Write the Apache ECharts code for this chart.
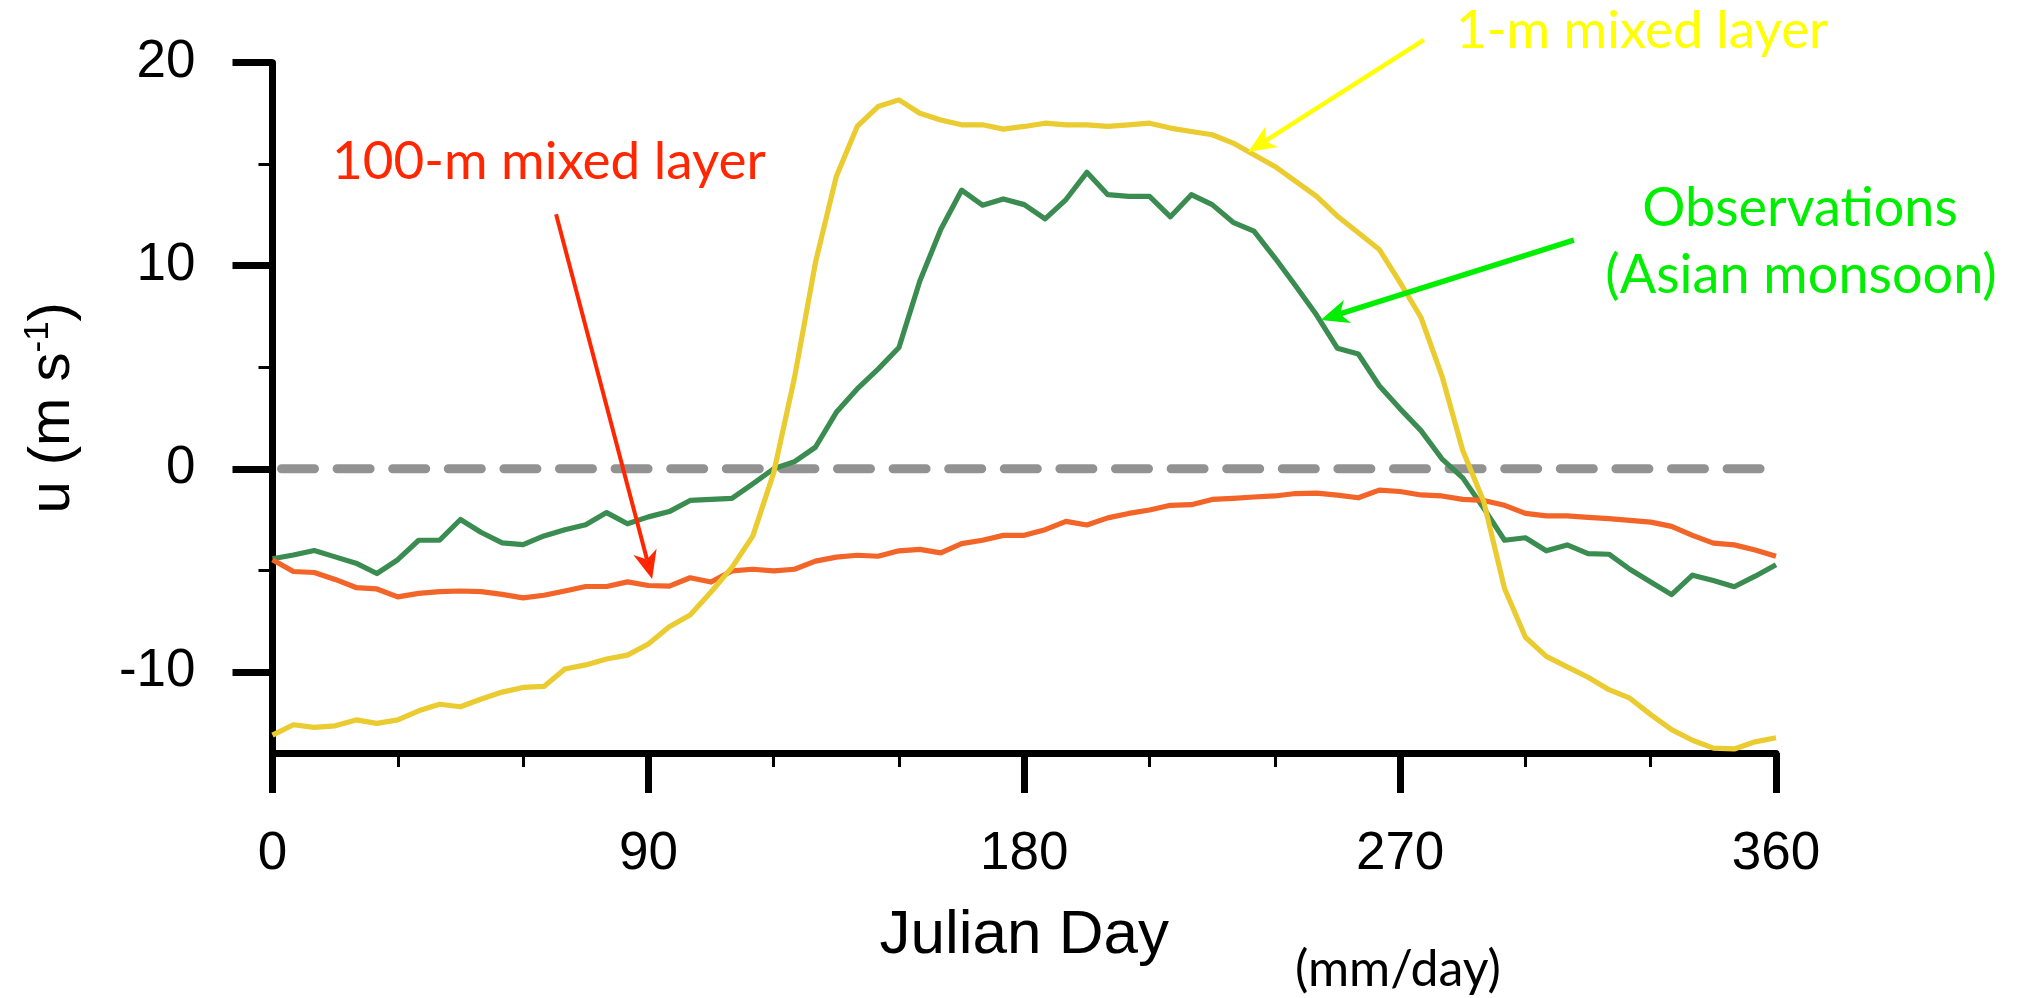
<!DOCTYPE html>
<html>
<head>
<meta charset="utf-8">
<script src="https://cdn.jsdelivr.net/npm/echarts@6/dist/echarts.min.js"></script>
<style>
html,body{margin:0;padding:0;background:#fff;}
#c{width:2021px;height:998px;}
</style>
</head>
<body>
<div id="c"></div>
<script>
// ---- data (Julian day, every 5 days) ----
const days = [0,5,10,15,20,25,30,35,40,45,50,55,60,65,70,75,80,85,90,95,100,105,110,115,120,125,130,135,140,145,150,155,160,165,170,175,180,185,190,195,200,205,210,215,220,225,230,235,240,245,250,255,260,265,270,275,280,285,290,295,300,305,310,315,320,325,330,335,340,345,350,355,360];

const observations = [-4.43,-4.25,-4.03,-4.34,-4.65,-5.16,-4.48,-3.52,-3.52,-2.5,-3.14,-3.65,-3.74,-3.31,-3.0,-2.76,-2.16,-2.71,-2.37,-2.11,-1.56,-1.51,-1.46,-0.74,0.0,0.35,1.06,2.78,3.93,4.91,5.97,9.25,11.78,13.72,12.98,13.29,13.01,12.31,13.26,14.6,13.5,13.42,13.42,12.41,13.5,13.01,12.14,11.7,10.39,9.0,7.57,5.93,5.65,4.09,2.95,1.88,0.49,-0.45,-1.94,-3.52,-3.4,-4.04,-3.75,-4.18,-4.21,-4.95,-5.58,-6.2,-5.24,-5.5,-5.81,-5.29,-4.73];

const mixed100m = [-4.48,-5.06,-5.11,-5.45,-5.85,-5.92,-6.31,-6.14,-6.05,-6.02,-6.05,-6.19,-6.36,-6.23,-6.02,-5.8,-5.8,-5.57,-5.75,-5.78,-5.37,-5.58,-5.03,-4.95,-5.03,-4.95,-4.55,-4.35,-4.26,-4.31,-4.04,-3.97,-4.14,-3.69,-3.52,-3.28,-3.28,-3.0,-2.59,-2.77,-2.42,-2.2,-2.03,-1.8,-1.77,-1.51,-1.46,-1.39,-1.34,-1.22,-1.2,-1.3,-1.43,-1.05,-1.12,-1.29,-1.34,-1.51,-1.56,-1.8,-2.2,-2.32,-2.32,-2.39,-2.46,-2.54,-2.63,-2.84,-3.28,-3.66,-3.75,-4.0,-4.31];

const mixed1m = [-13.12,-12.61,-12.74,-12.66,-12.37,-12.54,-12.37,-11.92,-11.6,-11.72,-11.34,-11.0,-10.77,-10.72,-9.86,-9.66,-9.37,-9.18,-8.63,-7.78,-7.2,-6.07,-4.86,-3.32,-0.2,4.5,10.15,14.4,16.86,17.84,18.17,17.51,17.18,16.94,16.94,16.73,16.86,17.02,16.94,16.94,16.86,16.94,17.02,16.78,16.61,16.45,16.04,15.47,14.89,14.16,13.42,12.44,11.62,10.8,9.17,7.45,4.58,0.9,-1.6,-5.9,-8.3,-9.24,-9.76,-10.27,-10.88,-11.3,-12.11,-12.85,-13.37,-13.76,-13.8,-13.45,-13.25];

// zero reference line (dashed)
const zeroLineX = [0, 358];
const zeroLineY = [0, 0];

const xMajorTicks = [0, 90, 180, 270, 360];
const yMajorTicks = [-10, 0, 10, 20];
const yMinorTicks = [-5, 5, 15];

// annotation arrow anchors in data space [day, u]
const arrowRedFrom = [67.9, 12.54],   arrowRedTo = [90.9, -5.43];
const arrowYellowFrom = [275.7, 21.12], arrowYellowTo = [233.6, 15.6];
const arrowGreenFrom = [311.6, 11.26], arrowGreenTo = [251.0, 7.33];

const AX_FONT = '"Liberation Sans", Helvetica, Arial, sans-serif';
const ANN_FONT = 'Lato, "Open Sans", sans-serif';

function pairs(xs, ys){ return xs.map((x,i)=>[x, ys[i]]); }

const chart = echarts.init(document.getElementById('c'), null, {renderer:'canvas', width:2021, height:998});

const option = {
  animation: false,
  backgroundColor: '#ffffff',
  grid: {left: 272.5, top: 62.7, right: 245, bottom: 245},
  xAxis: {
    type: 'value', min: 0, max: 360, interval: 90,
    name: 'Julian Day', nameLocation: 'middle', nameGap: 152,
    nameTextStyle: {fontFamily: AX_FONT, fontSize: 62, color: '#000'},
    axisLine: {show: true, onZero: false, lineStyle: {color: '#000', width: 7}},
    axisTick: {show: true, inside: false, length: 40, customValues: xMajorTicks, lineStyle: {color: '#000', width: 7}},
    minorTick: {show: true, splitNumber: 3, length: 14, lineStyle: {color: '#000', width: 3}},
    axisLabel: {show: true, margin: 75, customValues: xMajorTicks, fontFamily: AX_FONT, fontSize: 53, color: '#000'},
    splitLine: {show: false}, minorSplitLine: {show: false}
  },
  yAxis: [{
    type: 'value', min: -14, max: 20, position: 'left',
    name: '{a|u (m s}{s|-1}{a|)}', nameLocation: 'middle', nameGap: 188, nameRotate: 90,
    nameTextStyle: {
      rich: {
        a: {fontFamily: AX_FONT, fontSize: 58, color: '#000', lineHeight: 64},
        s: {fontFamily: AX_FONT, fontSize: 35, color: '#000', verticalAlign: 'top', lineHeight: 40}
      }
    },
    axisLine: {show: true, onZero: false, lineStyle: {color: '#000', width: 7}},
    axisTick: {show: true, inside: false, length: 40, customValues: yMajorTicks, lineStyle: {color: '#000', width: 7}},
    axisLabel: {show: true, margin: 77, customValues: yMajorTicks, fontFamily: AX_FONT, fontSize: 53, color: '#000'},
    splitLine: {show: false}
  }, {
    type: 'value', min: -14, max: 20, position: 'left', offset: 0,
    axisLine: {show: false, onZero: false},
    axisTick: {show: true, inside: false, length: 14, customValues: yMinorTicks, lineStyle: {color: '#000', width: 3}},
    axisLabel: {show: false},
    splitLine: {show: false}
  }],
  series: [
    {
      name: 'zero', type: 'line', z: 1, silent: true, showSymbol: false, symbol: 'none',
      data: pairs(zeroLineX, zeroLineY),
      lineStyle: {type: [33, 22.6], dashOffset: -9, width: 9, color: '#929292', cap: 'round'}
    },
    {
      name: 'Observations', type: 'line', z: 3, showSymbol: false, symbol: 'none',
      data: pairs(days, observations),
      lineStyle: {color: '#3A8C50', width: 5.2, join: 'round'}
    },
    {
      name: '100-m mixed layer', type: 'line', z: 4, showSymbol: false, symbol: 'none',
      data: pairs(days, mixed100m),
      lineStyle: {color: '#F26428', width: 5.2, join: 'round'}
    },
    {
      name: '1-m mixed layer', type: 'line', z: 5, showSymbol: false, symbol: 'none',
      data: pairs(days, mixed1m),
      lineStyle: {color: '#EACB30', width: 5.2, join: 'round'}
    }
  ]
};
chart.setOption(option);

function arrow(fromData, toData, color, w, headLen, headW){
  const p0 = chart.convertToPixel({gridIndex: 0}, fromData);
  const p1 = chart.convertToPixel({gridIndex: 0}, toData);
  const dx = p1[0]-p0[0], dy = p1[1]-p0[1];
  const L = Math.hypot(dx, dy);
  const ux = dx/L, uy = dy/L, nx = -uy, ny = ux;
  const bx = p1[0]-ux*headLen, by = p1[1]-uy*headLen;
  const mx = p1[0]-ux*headLen*0.72, my = p1[1]-uy*headLen*0.72;
  return [
    {type: 'line', z: 100, shape: {x1: p0[0], y1: p0[1], x2: mx, y2: my}, style: {stroke: color, lineWidth: w}},
    {type: 'polygon', z: 100, shape: {points: [[p1[0], p1[1]], [bx+nx*headW/2, by+ny*headW/2], [mx, my], [bx-nx*headW/2, by-ny*headW/2]]}, style: {fill: color}}
  ];
}

function label(text, x, y, size, color, align){
  return {type: 'text', z: 100, x: x, y: y, style: {text: text, font: size + 'px ' + ANN_FONT, fill: color, align: align || 'left', verticalAlign: 'middle'}};
}

const graphics = []
  .concat(arrow(arrowRedFrom, arrowRedTo, '#FF2600', 4, 28, 24))
  .concat(arrow(arrowYellowFrom, arrowYellowTo, '#FFFF00', 4.5, 28, 24))
  .concat(arrow(arrowGreenFrom, arrowGreenTo, '#00EE00', 5.5, 28, 24))
  .concat([
    label('100-m mixed layer', 332, 162, 53, '#FF2600'),
    label('1-m mixed layer', 1456, 31, 53, '#FFFF00'),
    label('Observations', 1800, 209, 54, '#00EE00', 'center'),
    label('(Asian monsoon)', 1801, 276, 54, '#00EE00', 'center'),
    label('(mm/day)', 1295, 970, 50, '#000000')
  ]);

chart.setOption({graphic: graphics});
</script>
</body>
</html>
